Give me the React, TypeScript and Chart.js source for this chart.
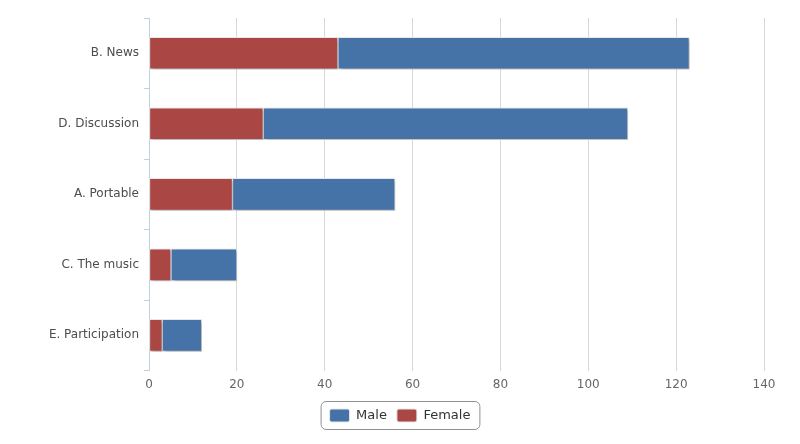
import { useEffect, useRef } from "react";
import { Chart, registerables } from "chart.js";

Chart.register(...registerables);

const categories = ["B. News", "D. Discussion", "A. Portable", "C. The music", "E. Participation"];
const femaleValues = [43, 26, 19, 5, 3];
const maleValues = [80, 83, 37, 15, 9];
const xTicks = [0, 20, 40, 60, 80, 100, 120, 140];

// rounded frame round the legend items, like the original
const legendFrame = {
  id: "legendFrame",
  afterDraw(chart: any) {
    const boxes = chart.legend?.legendHitBoxes;
    if (!boxes || !boxes.length) return;
    const left = Math.min(...boxes.map((b: any) => b.left)) - 9;
    const right = Math.max(...boxes.map((b: any) => b.left + b.width)) + 9;
    const top = Math.min(...boxes.map((b: any) => b.top)) - 8;
    const bottom = Math.max(...boxes.map((b: any) => b.top + b.height)) + 7;
    const ctx = chart.ctx;
    ctx.save();
    ctx.strokeStyle = "#909090";
    ctx.lineWidth = 1;
    ctx.beginPath();
    ctx.roundRect(left + 0.5, top + 0.5, right - left, bottom - top, 5);
    ctx.stroke();
    ctx.restore();
  },
};

const barShadow = {
  id: "barShadow",
  beforeDatasetsDraw(chart: any) {
    const ctx = chart.ctx;
    ctx.save();
    ctx.shadowColor = "rgba(0, 0, 0, 0.25)";
    ctx.shadowOffsetX = 2;
    ctx.shadowOffsetY = 2;
    ctx.shadowBlur = 3;
  },
  afterDatasetsDraw(chart: any) {
    chart.ctx.restore();
  },
};

export default function App() {
  const chartRef = useRef<HTMLCanvasElement | null>(null);

  useEffect(() => {
    const canvas = chartRef.current;
    if (!canvas) return;
    document.body.style.margin = "0";

    const chart = new Chart(canvas, {
      type: "bar",
      data: {
        labels: categories,
        datasets: [
          {
            label: "Female",
            data: femaleValues,
            backgroundColor: "#AA4643",
            borderColor: "#e8e8e8",
            borderWidth: 1,
            borderSkipped: false,
            barThickness: 32,
          },
          {
            label: "Male",
            data: maleValues,
            backgroundColor: "#4572A7",
            borderColor: "#e8e8e8",
            borderWidth: 1,
            borderSkipped: false,
            barThickness: 32,
          },
        ],
      },
      options: {
        indexAxis: "y",
        responsive: false,
        animation: false,
        layout: {
          padding: { top: 18, right: 0, bottom: 12, left: 0 },
        },
        plugins: {
          tooltip: { enabled: false },
          legend: {
            position: "bottom",
            reverse: true,
            labels: {
              boxWidth: 20,
              boxHeight: 13,
              useBorderRadius: true,
              borderRadius: 2,
              padding: 10,
              color: "#333",
              font: { family: "DejaVu Sans", size: 13 },
            },
          },
        },
        scales: {
          x: {
            stacked: true,
            min: 0,
            max: 140,
            afterBuildTicks: (scale: any) => {
              scale.ticks = xTicks.map((v) => ({ value: v }));
            },
            grid: {
              color: "#d8d8d8",
              lineWidth: 1,
              drawTicks: false,
            },
            border: { display: false },
            ticks: {
              padding: 7,
              color: "#666",
              font: { family: "DejaVu Sans", size: 12 },
            },
          },
          y: {
            stacked: true,
            afterFit: (scale: any) => {
              scale.width = 149;
            },
            grid: {
              drawOnChartArea: false,
              tickLength: 5,
              color: "#C0D0E0",
            },
            border: { display: true, color: "#C0D0E0", width: 1 },
            ticks: {
              padding: 5,
              color: "#4d4d4d",
              font: { family: "DejaVu Sans", size: 12 },
            },
          },
          // empty right-hand axis: keeps the plot clear of the right edge
          // while the legend stays centred on the whole canvas
          spacer: {
            type: "category",
            position: "right",
            axis: "y",
            afterFit: (scale: any) => {
              scale.width = 36;
            },
            grid: { display: false },
            border: { display: false },
            ticks: { display: false },
          },
        },
      },
      plugins: [barShadow, legendFrame],
    });

    return () => {
      chart.destroy();
    };
  }, []);

  return (
    <div style={{ width: 800, height: 444, background: "#fff" }}>
      <canvas ref={chartRef} width={800} height={444} />
    </div>
  );
}
